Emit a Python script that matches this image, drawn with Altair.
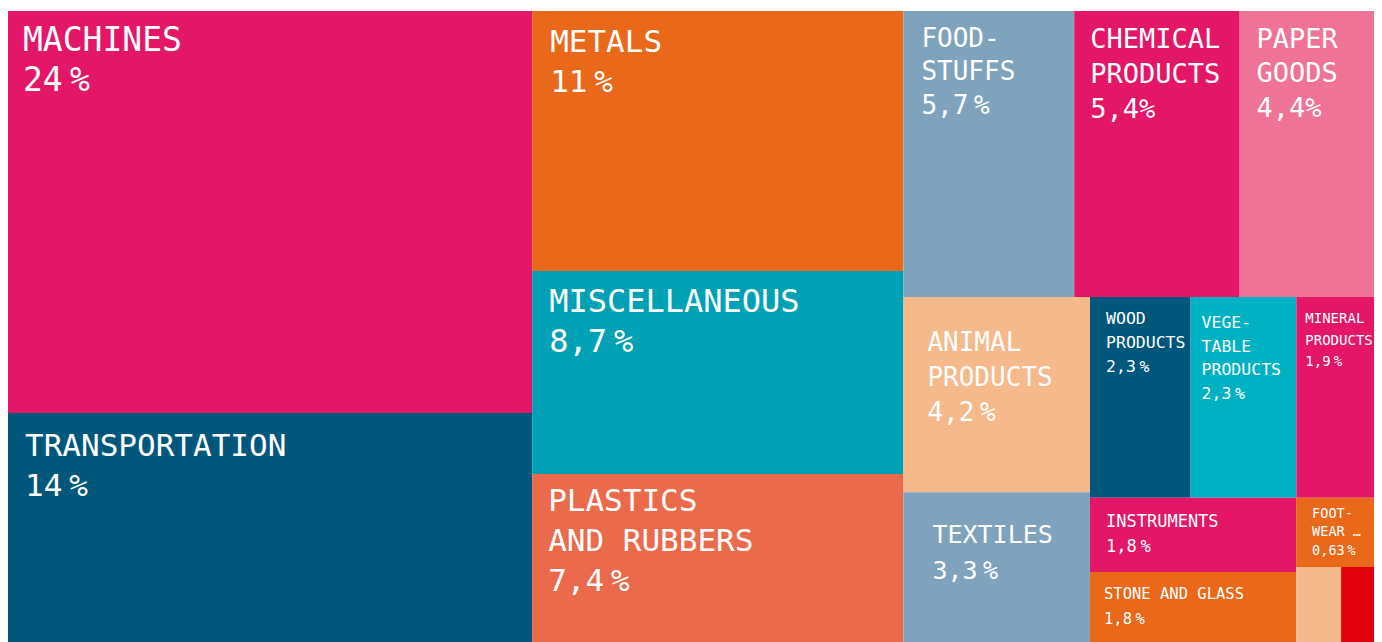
import altair as alt
import pandas as pd

# ---- data (shares of total, in %) ----
names = ["Machines", "Transportation", "Metals", "Miscellaneous", "Plastics and Rubbers",
         "Foodstuffs", "Chemical Products", "Paper Goods", "Animal Products", "Textiles",
         "Wood Products", "Vegetable Products", "Mineral Products", "Instruments",
         "Stone and Glass", "Footwear and Headwear", "Animal Hides", "Weapons"]
values = [24.29, 14.08, 11.13, 8.69, 7.36, 5.63, 5.45, 4.43, 4.20, 3.31,
          2.33, 2.45, 1.80, 1.76, 1.76, 0.62, 0.41, 0.30]
name_lines = [["MACHINES"], ["TRANSPORTATION"], ["METALS"], ["MISCELLANEOUS"],
              ["PLASTICS", "AND RUBBERS"], ["FOOD-", "STUFFS"], ["CHEMICAL", "PRODUCTS"],
              ["PAPER", "GOODS"], ["ANIMAL", "PRODUCTS"], ["TEXTILES"], ["WOOD", "PRODUCTS"],
              ["VEGE-", "TABLE", "PRODUCTS"], ["MINERAL", "PRODUCTS"], ["INSTRUMENTS"],
              ["STONE AND GLASS"], ["FOOT-", "WEAR …"], [], []]
pct_labels = ["24 %", "14 %", "11 %", "8,7 %", "7,4 %", "5,7 %", "5,4%", "4,4%", "4,2 %",
              "3,3 %", "2,3 %", "2,3 %", "1,9 %", "1,8 %", "1,8 %", "0,63 %", "", ""]

# ---- styles ----
PINK, BLUE, ORANGE = "#E41667", "#00577B", "#E9681A"
colors = [PINK, BLUE, ORANGE, "#00A1B5", "#EB6A4B", "#80A3BD", PINK, "#EE7396",
          "#F6B98C", "#80A3BD", BLUE, "#00B1C4", PINK, PINK, ORANGE, ORANGE,
          "#F6B98C", "#E2000F"]
# font size, left pad, top pad (to cap top), line spacing
label_style = {
    "Machines": (33, 15, 16, 40),
    "Transportation": (31, 17, 20, 40),
    "Metals": (31, 18, 18, 40),
    "Miscellaneous": (32, 17, 18, 40),
    "Plastics and Rubbers": (31, 16, 14, 40),
    "Foodstuffs": (26, 18, 17, 33.5),
    "Chemical Products": (27, 16, 17, 35),
    "Paper Goods": (27, 17, 17, 34.5),
    "Animal Products": (26, 24, 35, 35),
    "Textiles": (25, 29, 33, 36),
    "Wood Products": (16.5, 16, 15, 24),
    "Vegetable Products": (16.5, 11, 19, 23.7),
    "Mineral Products": (14, 9, 16, 21.5),
    "Instruments": (17, 16, 17, 25),
    "Stone and Glass": (15.5, 14, 16, 25),
    "Footwear and Headwear": (13.5, 16, 10, 18.5),
}
FONT = "DejaVu Sans Mono"
CAP = 0.729
ADV = 0.602

W, H = 1366, 635      # layout space (bottom of the chart runs past the window)
VIEW_H = 631
GOLDEN = (1 + 5 ** 0.5) / 2


def squarify(vals, x0, y0, x1, y1, ratio=GOLDEN):
    n = len(vals)
    out = [None] * n
    value = sum(vals)
    i0 = i1 = 0
    while i0 < n:
        dx, dy = x1 - x0, y1 - y0
        s = vals[i1]
        i1 += 1
        mn = mx = s
        alpha = max(dy / dx, dx / dy) / (value * ratio)
        beta = s * s * alpha
        min_ratio = max(mx / beta, beta / mn)
        while i1 < n:
            nv = vals[i1]
            s2 = s + nv
            mn2, mx2 = min(mn, nv), max(mx, nv)
            beta = s2 * s2 * alpha
            new_ratio = max(mx2 / beta, beta / mn2)
            if new_ratio > min_ratio:
                break
            s, mn, mx, min_ratio = s2, mn2, mx2, new_ratio
            i1 += 1
        row = range(i0, i1)
        if dx < dy:
            ny = y0 + dy * s / value
            k = (x1 - x0) / s
            cx = x0
            for i in row:
                w = vals[i] * k
                out[i] = (cx, y0, cx + w, ny)
                cx += w
            y0 = ny
        else:
            nx = x0 + dx * s / value
            k = (y1 - y0) / s
            cy = y0
            for i in row:
                h = vals[i] * k
                out[i] = (x0, cy, nx, cy + h)
                cy += h
            x0 = nx
        value -= s
        i0 = i1
    return out


rects = squarify(values, 0, 0, W, H)

cells = pd.DataFrame({
    "name": names,
    "share": values,
    "x0": [r[0] for r in rects], "y0": [r[1] for r in rects],
    "x1": [r[2] for r in rects], "y1": [r[3] for r in rects],
    "color": colors,
})

rows = []
for i, nm in enumerate(names):
    if nm not in label_style:
        continue
    fs, pl, pt, lh = label_style[nm]
    x = rects[i][0] + pl
    base = rects[i][1] + pt + CAP * fs
    lines = name_lines[i] + [pct_labels[i]]
    for j, line in enumerate(lines):
        y = base + j * lh
        if j == len(lines) - 1 and " " in line:
            num, pc = line.split(" ")
            rows.append({"x": x, "y": y, "t": num, "fs": fs})
            rows.append({"x": x + len(num) * ADV * fs + 0.22 * fs, "y": y, "t": pc, "fs": fs})
        else:
            rows.append({"x": x, "y": y, "t": line, "fs": fs})
labels = pd.DataFrame(rows)

xs = alt.Scale(domain=[0, W], nice=False, zero=False)
ys = alt.Scale(domain=[0, VIEW_H], reverse=True, nice=False, zero=False)

tiles = alt.Chart(cells).mark_rect(clip=True).encode(
    x=alt.X("x0:Q", scale=xs, axis=None),
    x2="x1:Q",
    y=alt.Y("y0:Q", scale=ys, axis=None),
    y2="y1:Q",
    color=alt.Color("color:N", scale=None, legend=None),
    tooltip=["name:N", "share:Q"],
)

text = alt.Chart(labels).mark_text(
    align="left", baseline="alphabetic", font=FONT, color="white", clip=True
).encode(
    x=alt.X("x:Q", scale=xs, axis=None),
    y=alt.Y("y:Q", scale=ys, axis=None),
    text="t:N",
    size=alt.Size("fs:Q", scale=None, legend=None),
)

chart = alt.layer(tiles, text).properties(
    width=W, height=VIEW_H,
    autosize=alt.AutoSizeParams(type="none"),
    padding={"left": 0, "top": 3, "right": 0, "bottom": 0},
).configure_view(strokeWidth=0)

chart.save("out.html", embed_options={"renderer": "svg", "actions": False})
